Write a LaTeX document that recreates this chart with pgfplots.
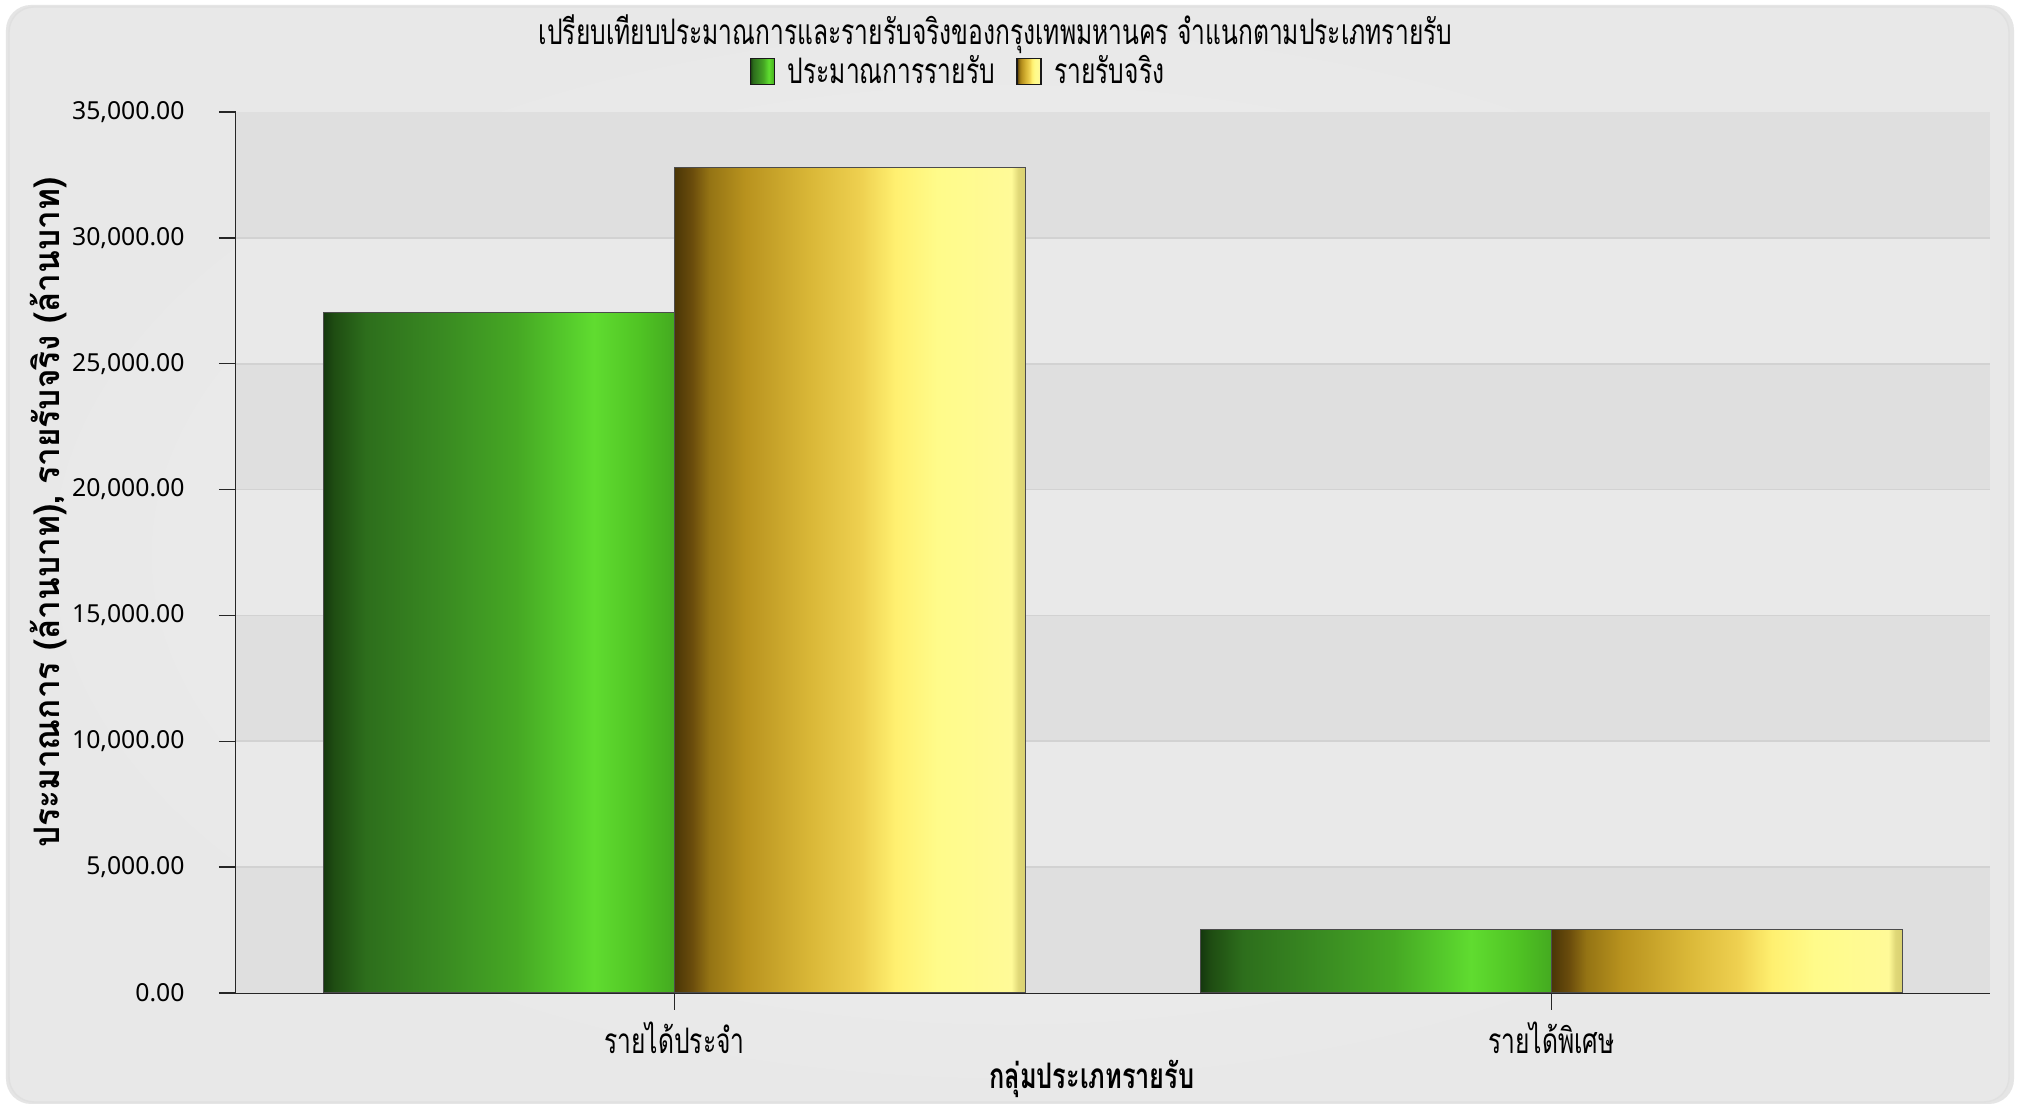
\documentclass[border=0pt]{standalone}
\usepackage{fontspec}
\setmainfont{Noto Sans}
\newfontfamily\thaifont[Script=Thai, FakeStretch=0.70]{Loma}
\newfontfamily\thaixlab[Script=Thai, FakeStretch=0.72]{Loma}
\newfontfamily\thaiylab[Script=Thai, FakeStretch=0.95]{Loma}
\usepackage{pgfplots}
\pgfplotsset{compat=1.18}

% bar colours
\definecolor{gA}{HTML}{15380E}
\definecolor{gB}{HTML}{1F4D12}
\definecolor{gC}{HTML}{2D6E1C}
\definecolor{gD}{HTML}{3A8C22}
\definecolor{gE}{HTML}{46A824}
\definecolor{gF}{HTML}{56CC2C}
\definecolor{gG}{HTML}{60DC30}
\definecolor{gH}{HTML}{50C424}
\definecolor{gI}{HTML}{44AA20}
\definecolor{yA}{HTML}{4A3606}
\definecolor{yB}{HTML}{6A4C0C}
\definecolor{yC}{HTML}{957414}
\definecolor{yD}{HTML}{B8921E}
\definecolor{yE}{HTML}{DAB838}
\definecolor{yF}{HTML}{EED050}
\definecolor{yG}{HTML}{FFF070}
\definecolor{yH}{HTML}{FFFB8A}
\definecolor{yI}{HTML}{FFFA98}
\definecolor{yJ}{HTML}{E0D878}
\definecolor{yK}{HTML}{D8D070}
\definecolor{bandD}{HTML}{DFDFDF}
\definecolor{bandL}{HTML}{E9E9E9}
\definecolor{gridc}{HTML}{D2D2D2}

% TikZ maps a path onto the 25bp..75bp part of a shading
\pgfdeclarehorizontalshading{greenbar}{100bp}{color(0bp)=(gA); color(25bp)=(gA); color(26.5bp)=(gB); color(31bp)=(gC); color(42.5bp)=(gD); color(52.5bp)=(gE); color(60bp)=(gF); color(63.5bp)=(gG); color(70bp)=(gH); color(75bp)=(gI); color(100bp)=(gI)}
\pgfdeclarehorizontalshading{yellowbar}{100bp}{color(0bp)=(yA); color(25bp)=(yA); color(27.5bp)=(yB); color(30bp)=(yC); color(35bp)=(yD); color(44.5bp)=(yE); color(51.5bp)=(yF); color(56.5bp)=(yG); color(62.5bp)=(yH); color(73bp)=(yI); color(74bp)=(yJ); color(75bp)=(yK); color(100bp)=(yK)}

\begin{document}
\begin{tikzpicture}
\path[use as bounding box] (0,0) rectangle (20.2,11.04);
\fill[white] (0,0) rectangle (20.2,11.04);
\fill[black!10, rounded corners=0.25cm] (0.06,0) rectangle (20.14,10.99);
\shade[rounded corners=0.25cm, inner color=white!95!black, outer color=white!91!black, draw=black!12] (0.09,0.02) rectangle (20.09,10.97);

\begin{axis}[
    at={(2.36cm,1.11cm)}, anchor=south west,
    scale only axis, width=17.54cm, height=8.81cm,
    xmin=-0.5, xmax=1.5, ymin=0, ymax=35000,
    axis x line*=bottom, axis y line*=left,
    axis line style={black!85, line width=0.5pt},
    xtick={0,1},
    xticklabels={{รายได้ประจำ},{รายได้พิเศษ}},
    ytick={0,5000,...,35000},
    tick align=outside, major tick length=0.17cm,
    tick style={black!85, line width=0.4pt},
    scaled y ticks=false,
    yticklabel style={font=\fontsize{7.05}{8}\selectfont, xshift=-0.22cm,
        /pgf/number format/.cd, fixed, fixed zerofill, precision=2,
        1000 sep={,}, assume math mode=true},
    xticklabel style={font=\thaifont\fontsize{10}{11}\selectfont},
    ybar=0pt, bar width=0.4,
    xlabel={\thaixlab\bfseries กลุ่มประเภทรายรับ},
    xlabel style={font=\fontsize{10}{11}\selectfont, at={(axis description cs:0.488,-0.098)}, anchor=center},
    ylabel={\thaiylab\bfseries ประมาณการ (ล้านบาท), รายรับจริง (ล้านบาท)},
    ylabel style={font=\fontsize{10}{11}\selectfont, at={(axis description cs:-0.107,0.545)}, anchor=center, rotate=0},
    every axis title shift=0pt,
    title={\thaifont เปรียบเทียบประมาณการและรายรับจริงของกรุงเทพมหานคร จำแนกตามประเภทรายรับ},
    title style={font=\fontsize{10}{11}\selectfont, at={(axis description cs:0.433,1.088)}, anchor=center},
    legend style={at={(axis description cs:0.413,1.045)}, anchor=center,
        draw=none, fill=none, legend columns=2,
        font=\thaifont\fontsize{10}{11}\selectfont,
        /tikz/every even column/.append style={column sep=0.14cm}},
    legend image code/.code={\draw[#1, draw=black!90, line width=0.45pt] (0cm,-0.12cm) rectangle (0.24cm,0.14cm); \path (0.3cm,0cm);},
]
% background bands and grid lines
\fill[bandD] (axis cs:-0.5,0) rectangle (axis cs:1.5,5000);
\fill[bandL] (axis cs:-0.5,5000) rectangle (axis cs:1.5,10000);
\fill[bandD] (axis cs:-0.5,10000) rectangle (axis cs:1.5,15000);
\fill[bandL] (axis cs:-0.5,15000) rectangle (axis cs:1.5,20000);
\fill[bandD] (axis cs:-0.5,20000) rectangle (axis cs:1.5,25000);
\fill[bandL] (axis cs:-0.5,25000) rectangle (axis cs:1.5,30000);
\fill[bandD] (axis cs:-0.5,30000) rectangle (axis cs:1.5,35000);
\draw[gridc, line width=0.5pt] (axis cs:-0.5,5000) -- (axis cs:1.5,5000);
\draw[gridc, line width=0.5pt] (axis cs:-0.5,10000) -- (axis cs:1.5,10000);
\draw[gridc, line width=0.5pt] (axis cs:-0.5,15000) -- (axis cs:1.5,15000);
\draw[gridc, line width=0.5pt] (axis cs:-0.5,20000) -- (axis cs:1.5,20000);
\draw[gridc, line width=0.5pt] (axis cs:-0.5,25000) -- (axis cs:1.5,25000);
\draw[gridc, line width=0.5pt] (axis cs:-0.5,30000) -- (axis cs:1.5,30000);

\addplot[shading=greenbar, draw=black!70, line width=0.3pt, bar shift=-0.2]
    coordinates {(0,27050)};
\addlegendentry{ประมาณการรายรับ}
\addplot[shading=yellowbar, draw=black!70, line width=0.3pt, bar shift=0.2]
    coordinates {(0,32800)};
\addlegendentry{รายรับจริง}
\addplot[shading=greenbar, draw=black!70, line width=0.3pt, bar shift=-0.2, forget plot]
    coordinates {(1,2520)};
\addplot[shading=yellowbar, draw=black!70, line width=0.3pt, bar shift=0.2, forget plot]
    coordinates {(1,2520)};
\end{axis}
\end{tikzpicture}
\end{document}
